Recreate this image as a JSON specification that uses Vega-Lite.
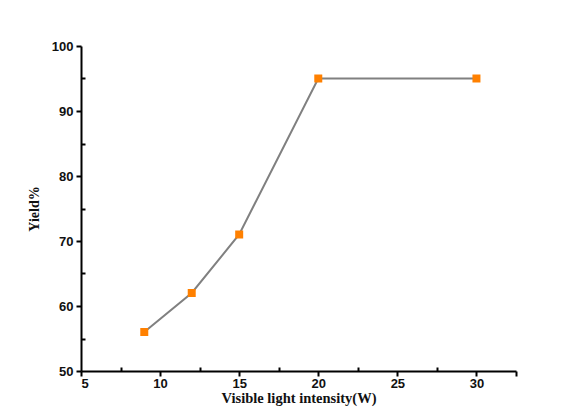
{
  "$schema": "https://vega.github.io/schema/vega-lite/v6.json",
  "autosize": "none",
  "padding": {"left": 81, "top": 46, "right": 45, "bottom": 43},
  "width": 435,
  "height": 325,
  "background": "white",
  "config": {"view": {"stroke": null}},
  "data": {"values": [
    {"power": 9, "yield": 56},
    {"power": 12, "yield": 62},
    {"power": 15, "yield": 71},
    {"power": 20, "yield": 95},
    {"power": 30, "yield": 95}
  ]},
  "encoding": {
    "x": {
      "field": "power", "type": "quantitative",
      "scale": {"domain": [5, 32.5], "nice": false, "zero": false},
      "axis": {
        "title": "Visible light intensity(W)",
        "titleFont": "Liberation Serif", "titleFontSize": 14.5, "titleFontWeight": "bold", "titleColor": "#111",
        "titlePadding": 1,
        "values": [5, 7.5, 10, 12.5, 15, 17.5, 20, 22.5, 25, 27.5, 30, 32.5],
        "labelExpr": "datum.value % 5 === 0 ? datum.label : ''",
        "labelFont": "Liberation Sans", "labelFontSize": 13, "labelFontWeight": "bold", "labelColor": "#111",
        "labelPadding": 1,
        "grid": false,
        "domainColor": "#000", "domainWidth": 2,
        "tickColor": "#000", "tickWidth": 2,
        "tickSize": {"condition": {"test": "datum.value % 5 === 0 || datum.value === 32.5", "value": 5}, "value": -4}
      }
    },
    "y": {
      "field": "yield", "type": "quantitative",
      "scale": {"domain": [50, 100], "nice": false, "zero": false},
      "axis": {
        "title": "Yield%",
        "titleFont": "Liberation Serif", "titleFontSize": 14, "titleFontWeight": "bold", "titleColor": "#111",
        "titlePadding": 10,
        "values": [50, 55, 60, 65, 70, 75, 80, 85, 90, 95, 100],
        "labelExpr": "datum.value % 10 === 0 ? datum.label : ''",
        "labelFont": "Liberation Sans", "labelFontSize": 13, "labelFontWeight": "bold", "labelColor": "#111",
        "labelPadding": 3,
        "grid": false,
        "domainColor": "#000", "domainWidth": 2,
        "tickColor": "#000", "tickWidth": 2,
        "tickSize": {"condition": {"test": "datum.value % 10 === 0", "value": 5}, "value": -4}
      }
    }
  },
  "layer": [
    {"mark": {"type": "line", "color": "#808080", "strokeWidth": 2}},
    {"mark": {"type": "point", "shape": "square", "filled": true, "color": "#FF8000", "size": 64, "opacity": 1}}
  ]
}
